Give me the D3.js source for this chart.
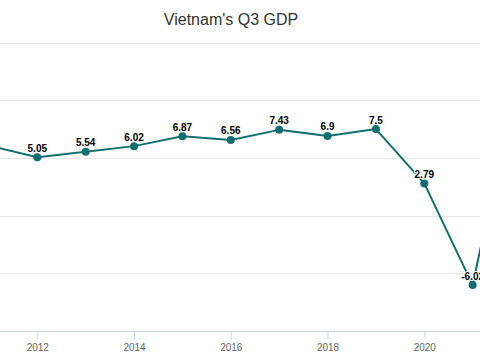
<!DOCTYPE html>
<html>
<head>
<meta charset="utf-8">
<script src="https://cdn.jsdelivr.net/npm/d3@7"></script>
<style>
  html, body { margin: 0; padding: 0; background: #fff; overflow: hidden; }
  svg { display: block; font-family: "Liberation Sans", Arial, sans-serif; }
</style>
</head>
<body>
<svg id="chart" width="480" height="360"></svg>
<script>
const title = "Vietnam's Q3 GDP";
const years = [2011, 2012, 2013, 2014, 2015, 2016, 2017, 2018, 2019, 2020, 2021, 2022];
const gdp = [6.07, 5.05, 5.54, 6.02, 6.87, 6.56, 7.43, 6.9, 7.5, 2.79, -6.02, 13.67];
const yTicks = [-10, -5, 0, 5, 10, 15];
const xTicks = [2012, 2014, 2016, 2018, 2020];

const svg = d3.select("#chart");
const lineColor = "#136f6f";

const x = d3.scaleLinear().domain([2012, 2020]).range([37.3, 424.3]);
const y = d3.scaleLinear().domain([-10, 15]).range([331, 42.5]);

// title
svg.append("text")
  .attr("x", 231).attr("y", 24.5)
  .attr("text-anchor", "middle")
  .attr("font-size", 16)
  .attr("fill", "#333333")
  .text(title);

// gridlines
svg.append("g")
  .selectAll("line")
  .data(yTicks.filter(t => t !== -10))
  .join("line")
  .attr("x1", 0).attr("x2", 480)
  .attr("y1", d => Math.round(y(d)) + 0.5)
  .attr("y2", d => Math.round(y(d)) + 0.5)
  .attr("stroke", "#e6e6e6")
  .attr("stroke-width", 1);

// x axis
const xAxis = d3.axisBottom(x)
  .tickValues(xTicks)
  .tickFormat(d3.format("d"))
  .tickSize(8)
  .tickPadding(4);
const gx = svg.append("g")
  .attr("transform", `translate(0,${Math.round(y(-10)) + 0.5})`)
  .call(xAxis);
gx.select(".domain").attr("d", "M-100,0H600").attr("stroke", "#ccd6eb");
gx.selectAll(".tick line").attr("stroke", "#ccd6eb");
gx.selectAll(".tick text").attr("fill", "#666666").attr("font-size", 10)
  .attr("font-family", "Liberation Sans, Arial, sans-serif");

const pts = years.map((yr, i) => ({ yr, v: gdp[i] }));

// line
svg.append("path")
  .datum(pts)
  .attr("fill", "none")
  .attr("stroke", lineColor)
  .attr("stroke-width", 2)
  .attr("stroke-linejoin", "round")
  .attr("d", d3.line().x(d => x(d.yr)).y(d => y(d.v)));

// markers
svg.append("g")
  .selectAll("circle")
  .data(pts)
  .join("circle")
  .attr("cx", d => x(d.yr))
  .attr("cy", d => y(d.v))
  .attr("r", 4)
  .attr("fill", lineColor);

// data labels
svg.append("g")
  .selectAll("text")
  .data(pts)
  .join("text")
  .attr("x", d => x(d.yr))
  .attr("y", d => y(d.v) - 5.5)
  .attr("text-anchor", "middle")
  .attr("font-size", 10)
  .attr("font-weight", "bold")
  .attr("fill", "#000000")
  .attr("stroke", "#ffffff")
  .attr("stroke-width", 2)
  .attr("stroke-linejoin", "round")
  .attr("paint-order", "stroke")
  .text(d => d.v);
</script>
</body>
</html>
